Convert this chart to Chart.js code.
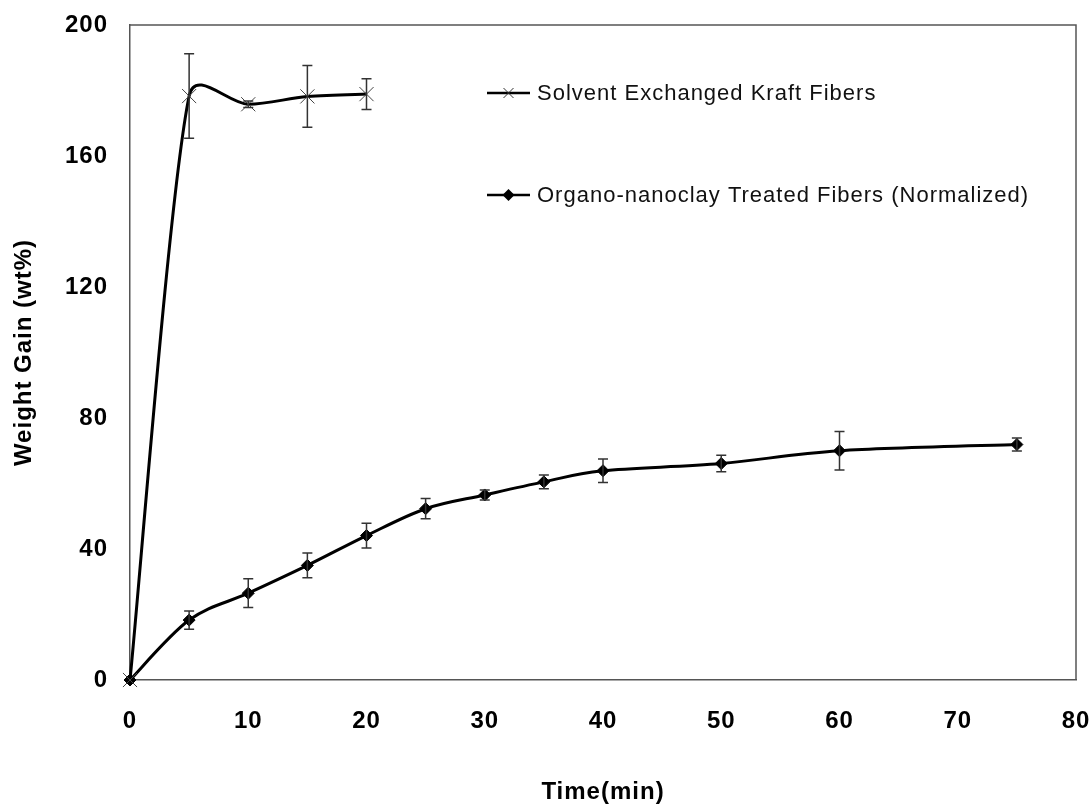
<!DOCTYPE html>
<html>
<head>
<meta charset="utf-8">
<script src="https://cdn.jsdelivr.net/npm/chart.js@4/dist/chart.umd.min.js"></script>
<style>
  html, body { margin: 0; padding: 0; background: #fff; }
  #wrap { width: 1090px; height: 808px; position: relative; }
</style>
</head>
<body>
<div id="wrap"><canvas id="chart"></canvas></div>
<script>
// values
const solventTime = [0, 5, 10, 15, 20];
const solventGain = [0, 178.3, 175.8, 178.2, 178.9];
const solventErr = [0, 12.9, 1, 9.4, 4.7];

const clayTime = [0, 5, 10, 15, 20, 25, 30, 35, 40, 50, 60, 75];
const clayGain = [0, 18.3, 26.5, 35.0, 44.1, 52.3, 56.5, 60.5, 63.9, 66.1, 70.0, 71.9];
const clayErr = [0, 2.8, 4.4, 3.8, 3.8, 3.1, 1.5, 2.1, 3.6, 2.5, 5.9, 2.0];

const seriesLabels = ["Solvent Exchanged Kraft Fibers", "Organo-nanoclay Treated Fibers (Normalized)"];

const FONT = "'Liberation Sans', Arial, sans-serif";
const toPoints = (xs, ys) => xs.map((x, i) => ({ x: x, y: ys[i] }));

// excel-like smoothing: tangent along neighbour chord, arm = min(chord/6, half segment)
const excelSmooth = {
  id: "excelSmooth",
  beforeDatasetsDraw(chart) {
    chart.data.datasets.forEach((ds, di) => {
      const meta = chart.getDatasetMeta(di);
      const pts = meta.data;
      const n = pts.length;
      for (let i = 0; i < n; i++) {
        const p = pts[i];
        const prev = pts[Math.max(i - 1, 0)];
        const next = pts[Math.min(i + 1, n - 1)];
        const dx = next.x - prev.x, dy = next.y - prev.y;
        const chord = Math.hypot(dx, dy) || 1;
        const ux = dx / chord, uy = dy / chord;
        const a1 = Math.min(chord / 6, Math.hypot(p.x - prev.x, p.y - prev.y) / 2);
        const a2 = Math.min(chord / 6, Math.hypot(next.x - p.x, next.y - p.y) / 2);
        p.cp1x = p.x - ux * a1; p.cp1y = p.y - uy * a1;
        p.cp2x = p.x + ux * a2; p.cp2y = p.y + uy * a2;
      }
      meta.dataset._pointsUpdated = true;
      meta.dataset._path = undefined;
    });
  }
};

const errorBars = {
  id: "errorBars",
  afterDatasetsDraw(chart) {
    const { ctx, scales } = chart;
    const errs = [solventErr, clayErr];
    ctx.save();
    ctx.strokeStyle = "#333";
    ctx.lineWidth = 1.5;
    chart.data.datasets.forEach((ds, di) => {
      ds.data.forEach((p, i) => {
        const e = errs[di][i];
        if (!e) return;
        const x = scales.x.getPixelForValue(p.x);
        const yt = scales.y.getPixelForValue(p.y + e);
        const yb = scales.y.getPixelForValue(p.y - e);
        ctx.beginPath();
        ctx.moveTo(x, yt); ctx.lineTo(x, yb);
        ctx.moveTo(x - 5, yt); ctx.lineTo(x + 5, yt);
        ctx.moveTo(x - 5, yb); ctx.lineTo(x + 5, yb);
        ctx.stroke();
      });
    });
    ctx.restore();
  }
};

const frameAndLegend = {
  id: "frameAndLegend",
  beforeDraw(chart) {
    chart.ctx.letterSpacing = "1px";
  },
  beforeDatasetsDraw(chart) {
    const { ctx, chartArea: a } = chart;
    ctx.save();
    ctx.strokeStyle = "#555";
    ctx.lineWidth = 1.5;
    ctx.beginPath();
    ctx.moveTo(a.left, a.top); ctx.lineTo(a.right, a.top); ctx.lineTo(a.right, a.bottom);
    ctx.stroke();
    ctx.restore();
  },
  afterDraw(chart) {
    const { ctx } = chart;
    const rows = [93, 195];
    ctx.save();
    ctx.font = "22px " + FONT;
    ctx.textBaseline = "middle";
    ctx.fillStyle = "#111";
    rows.forEach((y, i) => {
      const x0 = 487, x1 = 530, xm = (x0 + x1) / 2;
      ctx.strokeStyle = "#000";
      ctx.lineWidth = 2.5;
      ctx.beginPath(); ctx.moveTo(x0, y); ctx.lineTo(x1, y); ctx.stroke();
      if (i === 0) {
        ctx.lineWidth = 1;
        ctx.strokeStyle = "#333";
        ctx.beginPath();
        ctx.moveTo(xm - 5, y - 5); ctx.lineTo(xm + 5, y + 5);
        ctx.moveTo(xm - 5, y + 5); ctx.lineTo(xm + 5, y - 5);
        ctx.stroke();
      } else {
        ctx.fillStyle = "#000";
        ctx.beginPath();
        ctx.moveTo(xm, y - 6); ctx.lineTo(xm + 6, y); ctx.lineTo(xm, y + 6); ctx.lineTo(xm - 6, y);
        ctx.closePath(); ctx.fill();
        ctx.fillStyle = "#111";
      }
      ctx.fillText(seriesLabels[i], 537, y + 1);
    });
    ctx.restore();
  }
};

new Chart(document.getElementById("chart").getContext("2d"), {
  type: "line",
  data: {
    datasets: [
      {
        label: seriesLabels[0],
        data: toPoints(solventTime, solventGain),
        borderColor: "#000",
        borderWidth: 3,
        tension: 0.4,
        pointStyle: "crossRot",
        pointRadius: 10,
        pointBorderWidth: 1,
        pointBorderColor: "#444",
        clip: false
      },
      {
        label: seriesLabels[1],
        data: toPoints(clayTime, clayGain),
        borderColor: "#000",
        borderWidth: 3,
        tension: 0.4,
        pointStyle: "rectRot",
        pointRadius: 6,
        pointBorderWidth: 1,
        pointBackgroundColor: "#000",
        pointBorderColor: "#000",
        clip: false
      }
    ]
  },
  options: {
    responsive: true,
    maintainAspectRatio: false,
    animation: false,
    layout: { padding: { top: 25, right: 14, left: 0, bottom: 0 } },
    plugins: {
      legend: { display: false },
      tooltip: { enabled: false }
    },
    scales: {
      x: {
        type: "linear",
        min: 0,
        max: 80,
        afterFit: (s) => { s.height = 128; s.paddingLeft = 0; s.paddingRight = 0; },
        grid: { display: false, drawTicks: true, tickLength: 9, tickColor: "#555" },
        border: { color: "#555", width: 1.5 },
        ticks: {
          stepSize: 10,
          color: "#000",
          padding: 18,
          font: { family: FONT, size: 24, weight: "bold" }
        },
        title: {
          display: true,
          text: "Time(min)",
          color: "#000",
          padding: { top: 0, bottom: 1 },
          font: { family: FONT, size: 24, weight: "bold" }
        }
      },
      y: {
        min: 0,
        max: 200,
        afterFit: (s) => { s.width = 130; s.paddingTop = 0; s.paddingBottom = 0; },
        grid: { display: false, drawTicks: true, tickLength: 9, tickColor: "#555" },
        border: { color: "#555", width: 1.5 },
        ticks: {
          stepSize: 40,
          color: "#000",
          padding: 13,
          font: { family: FONT, size: 24, weight: "bold" }
        },
        title: {
          display: true,
          text: "Weight Gain (wt%)",
          color: "#000",
          padding: { top: 10, bottom: 0 },
          font: { family: FONT, size: 24, weight: "bold" }
        }
      }
    }
  },
  plugins: [excelSmooth, errorBars, frameAndLegend]
});
</script>
</body>
</html>
